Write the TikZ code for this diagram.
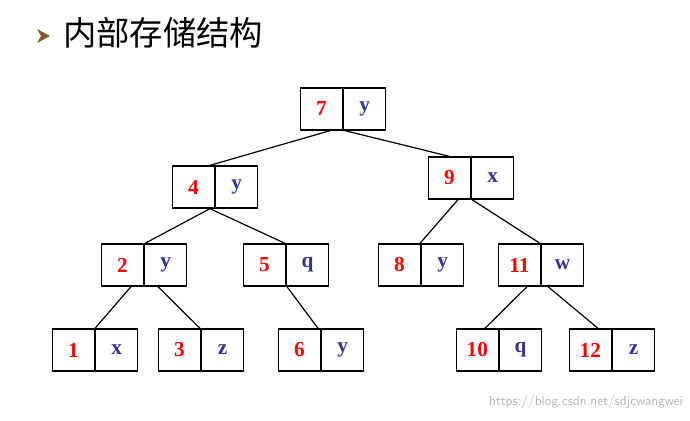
\documentclass[tikz,border=0pt]{standalone}
\usepackage{fontspec}
\setmainfont{Liberation Serif}
\newfontfamily\cjk{Noto Sans CJK SC}
\usetikzlibrary{calc}
\definecolor{kred}{HTML}{FF0000}
\definecolor{vblue}{HTML}{333399}
\begin{document}
\begin{tikzpicture}[x=0.75pt,y=-0.75pt,
  half/.style={draw,line width=1pt,minimum width=31.5pt,minimum height=31.5pt,inner sep=0pt,font=\bfseries\fontsize{16}{16}\selectfont},
  kk/.style={half,text=kred},
  vv/.style={half,text=vblue},
  edge/.style={line width=0.9pt}]
\useasboundingbox (0,0) rectangle (690,421);
\newcommand\bx[4]{\node[kk,anchor=east] (#1k) at (#2,#3) {#4};}
\newcommand\bv[4]{\node[vv,anchor=west] (#1v) at (#2,#3) {#4};}
\bx{a}{343}{109}{7}\bv{a}{343}{109}{y}
\bx{b}{215}{187}{4}\bv{b}{215}{187}{y}
\bx{c}{471}{178}{9}\bv{c}{471}{178}{x}
\bx{d}{144}{265}{2}\bv{d}{144}{265}{y}
\bx{e}{286}{265}{5}\bv{e}{286}{265}{q}
\bx{f}{421}{265}{8}\bv{f}{421}{265}{y}
\bx{g}{541}{265}{11}\bv{g}{541}{265}{w}
\bx{h}{95}{350}{1}\bv{h}{95}{350}{x}
\bx{i}{201}{350}{3}\bv{i}{201}{350}{z}
\bx{j}{321}{350}{6}\bv{j}{321}{350}{y}
\bx{k}{499}{350}{10}\bv{k}{499}{350}{q}
\bx{l}{612}{350}{12}\bv{l}{612}{350}{z}
\draw[edge] ($(ak.south east)+(-13,0)$) -- ($(bk.north east)+(-5,0)$);
\draw[edge] ($(ak.south east)+(2,0)$) -- ($(ck.north)+(0,0)$);
\draw[edge] ($(bk.south east)+(-5,0)$) -- ($(dk.north east)+(1,0)$);
\draw[edge] ($(bk.south east)+(-5,0)$) -- ($(ek.north east)+(-1,0)$);
\draw[edge] ($(ck.south east)+(-13,0)$) -- ($(fk.north east)+(-1,0)$);
\draw[edge] ($(ck.south east)+(1,0)$) -- ($(gk.north east)+(-1,0)$);
\draw[edge] ($(dk.south east)+(-13,0)$) -- ($(hk.north east)+(0,0)$);
\draw[edge] ($(dk.south east)+(14,0)$) -- ($(ik.north east)+(-1,0)$);
\draw[edge] ($(ek.south east)+(1,0)$) -- ($(jk.north east)+(-3,0)$);
\draw[edge] ($(gk.south east)+(-14,0)$) -- ($(kk.north east)+(-14,0)$);
\draw[edge] ($(gk.south east)+(7,0)$) -- ($(lk.north east)+(-14,0)$);
\fill[brown!70!black] (37,29) -- (50,36) -- (37,43) -- (41,36) -- cycle;
\node[anchor=west,font=\cjk\fontsize{25}{25}\selectfont,inner sep=0pt] (title) at (63,33) {内部存储结构};
\node[anchor=east,font=\sffamily\fontsize{10}{10}\selectfont,text=gray!60,inner sep=0pt] (wm) at (683,402) {https://blog.csdn.net/sdjcwangwei};
\end{tikzpicture}
\end{document}
